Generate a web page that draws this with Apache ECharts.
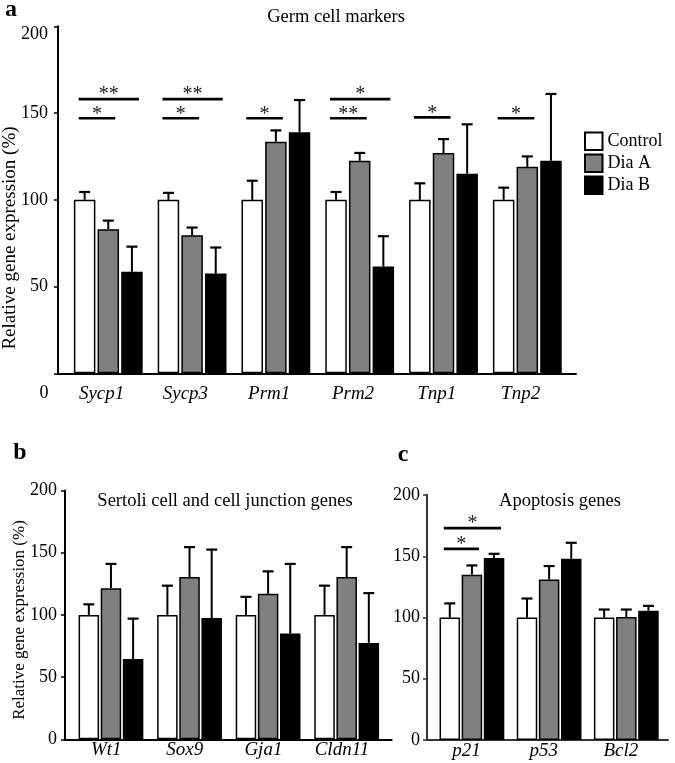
<!DOCTYPE html>
<html><head><meta charset="utf-8">
<script src="https://cdn.jsdelivr.net/npm/echarts@6/dist/echarts.min.js"></script>
<style>html,body{margin:0;padding:0;background:#fff}#c{width:675px;height:763px}</style>
</head><body><div id="c"></div>
<script>
// ---------- data ----------
const groups = ['Control', 'Dia A', 'Dia B'];
const yTicks = [0, 50, 100, 150, 200];

const catsA = ['Sycp1', 'Sycp3', 'Prm1', 'Prm2', 'Tnp1', 'Tnp2'];
const ctrlA = [100, 100, 100, 100, 100, 100];
const diaAA = [83, 79.5, 133.5, 122.5, 127, 119];
const diaBA = [58.5, 57.5, 139, 61.5, 115, 122.5];
const ctrlErrA = [104.5, 104, 111, 104.5, 109.5, 107];
const diaAErrA = [88, 84, 140, 127, 135, 125];
const diaBErrA = [73, 72.5, 157.5, 79, 143.5, 161];
// [category, from group, to group, bracket height, number of stars]
const sigA = [[0,0,1,147,1],[0,0,2,158,2],[1,0,1,147,1],[1,0,2,158,2],[2,0,1,147,1],
              [3,0,2,158,1],[3,0,1,147,2],[4,0,1,147.5,1],[5,0,1,147,1]];

const catsB = ['Wt1', 'Sox9', 'Gja1', 'Cldn11'];
const ctrlB = [100, 100, 100, 100];
const diaAB = [121.5, 130.5, 117, 130.5];
const diaBB = [64.5, 97.5, 85, 77.5];
const ctrlErrB = [108.5, 123.5, 114.5, 123.5];
const diaAErrB = [141, 154.5, 135, 154.5];
const diaBErrB = [97, 152.5, 141, 117.5];
const sigB = [];

const catsC = ['p21', 'p53', 'Bcl2'];
const ctrlC = [100, 100, 100];
const diaAC = [135, 131, 100.5];
const diaBC = [148.5, 148, 105.5];
const ctrlErrC = [111.5, 115.5, 106.5];
const diaAErrC = [142.5, 142, 106.5];
const diaBErrC = [152, 161, 109.5];
const sigC = [[0,0,2,173,1],[0,0,1,156,1]];

// ---------- layout / style ----------
const SERIF = '"Liberation Serif","Times New Roman",serif';
const fills = ['#ffffff', '#808080', '#000000'];
const panels = [
  {cats: catsA, vals: [ctrlA, diaAA, diaBA], errs: [ctrlErrA, diaAErrA, diaBErrA], sig: sigA,
   grid: {left: 58, top: 26.3, width: 518, height: 347}, xmin: -0.6, xmax: 5.581,
   bw: 21.5, gap: 0.1, ylm: 10, xlm: 11, hideZero: true, labShift: -0.08, topPad: true, axisColor: '#000'},
  {cats: catsB, vals: [ctrlB, diaAB, diaBB], errs: [ctrlErrB, diaAErrB, diaBErrB], sig: sigB,
   grid: {left: 65, top: 490.5, width: 326.7, height: 248.8}, xmin: -0.585, xmax: 3.573,
   bw: 20.5, gap: 0.08, ylm: 8, xlm: 1, hideZero: false, labShift: -0.06, topPad: false, axisColor: '#000'},
  {cats: catsC, vals: [ctrlC, diaAC, diaBC], errs: [ctrlErrC, diaAErrC, diaBErrC], sig: sigC,
   grid: {left: 427, top: 495, width: 241, height: 245}, xmin: -0.582, xmax: 2.54,
   bw: 20.5, gap: 0.08, ylm: 7, xlm: 1, hideZero: false, labShift: -0.07, topPad: false, axisColor: '#333'}
];

function errRender(offset) {
  return function (params, api) {
    const x = api.value(0), top = api.value(1), hi = api.value(2);
    const p0 = api.coord([x, top]), p1 = api.coord([x, hi]);
    const cx = p0[0] + offset;
    const cap = 5.5;
    return {type: 'group', children: [
      {type: 'line', shape: {x1: cx, y1: p0[1], x2: cx, y2: p1[1]}, style: {stroke: '#000', lineWidth: 2}},
      {type: 'line', shape: {x1: cx - cap, y1: p1[1], x2: cx + cap, y2: p1[1]}, style: {stroke: '#000', lineWidth: 2.2}}
    ]};
  };
}
function sigRender(step) {
  return function (params, api) {
    const x = api.value(0), a = api.value(1), b = api.value(2), y = api.value(3), n = api.value(4);
    const p = api.coord([x, y]);
    const x1 = p[0] + (a - 1) * step - 6, x2 = p[0] + (b - 1) * step + 7;
    return {type: 'group', children: [
      {type: 'line', shape: {x1: x1, y1: p[1], x2: x2, y2: p[1]}, style: {stroke: '#000', lineWidth: 2.6}},
      {type: 'text', x: (x1 + x2) / 2, y: p[1] - 4,
       style: {text: '*'.repeat(n), font: '20px ' + SERIF, fill: '#222', align: 'center', verticalAlign: 'middle'}}
    ]};
  };
}

const grid = [], xAxis = [], yAxis = [], series = [];
panels.forEach((P, k) => {
  const step = P.bw * (1 + P.gap);
  grid.push(Object.assign({containLabel: false}, P.grid));
  xAxis.push({
    type: 'value', gridIndex: k, min: P.xmin, max: P.xmax,
    axisLine: {show: true, onZero: false, lineStyle: {color: P.axisColor, width: 2}},
    axisTick: {show: false}, splitLine: {show: false},
    axisLabel: {customValues: P.cats.map((c, i) => i + P.labShift), formatter: v => P.cats[Math.round(v)],
      fontStyle: 'italic', fontFamily: SERIF, fontSize: 19, color: '#000', margin: P.xlm}
  });
  yAxis.push({
    type: 'value', gridIndex: k, min: yTicks[0], max: yTicks[yTicks.length - 1], interval: yTicks[1] - yTicks[0],
    axisLine: {show: true, onZero: false, lineStyle: {color: P.axisColor, width: 2}},
    axisTick: {show: true, length: 4, lineStyle: {color: P.axisColor, width: 1.5}},
    splitLine: {show: false},
    axisLabel: {fontFamily: SERIF, fontSize: 18, color: '#000', margin: P.ylm,
      formatter: v => (P.hideZero && v === 0) ? '' : ((P.topPad && v === 200) ? '{d|200}' : String(v)),
      rich: {d: {fontFamily: SERIF, fontSize: 18, color: '#000', padding: [16, 0, 0, 0]}}}
  });
  for (let s = 0; s < 3; s++) {
    series.push({
      type: 'bar', name: groups[s], xAxisIndex: k, yAxisIndex: k,
      barWidth: P.bw, barGap: (P.gap * 100) + '%',
      data: P.vals[s].map((v, i) => [i, v]),
      itemStyle: {color: fills[s], borderColor: '#000', borderWidth: 1.5},
      z: 2
    });
  }
  for (let s = 0; s < 3; s++) {
    series.push({type: 'custom', name: 'err' + k + '_' + s, xAxisIndex: k, yAxisIndex: k,
      data: P.vals[s].map((v, i) => [i, v, P.errs[s][i]]),
      encode: {x: 0, y: 2}, renderItem: errRender((s - 1) * step), z: 3});
  }
  if (P.sig.length) {
    series.push({type: 'custom', name: 'sig' + k, xAxisIndex: k, yAxisIndex: k, data: P.sig,
      encode: {x: 0, y: 3}, renderItem: sigRender(step), z: 3});
  }
});

const txt = (t, x, y, size, extra) => Object.assign({type: 'text', x: x, y: y,
  style: Object.assign({text: t, font: size + 'px ' + SERIF, fill: '#000', align: 'center', verticalAlign: 'middle'}, extra || {})});

const graphic = [
  txt('a', 11, 10, 24, {font: 'bold 24px ' + SERIF}),
  txt('b', 20, 453, 24, {font: 'bold 24px ' + SERIF}),
  txt('c', 403, 455, 24, {font: 'bold 24px ' + SERIF}),
  txt('Germ cell markers', 336, 17, 18.5),
  txt('Sertoli cell and cell junction genes', 225, 501, 18.5),
  txt('Apoptosis genes', 560, 501, 18.5),
  txt('0', 44, 393, 18),
  Object.assign(txt('Relative gene expression (%)', 10, 238, 19), {rotation: Math.PI / 2}),
  Object.assign(txt('Relative gene expression (%)', 20, 620, 17), {rotation: Math.PI / 2})
];

const chart = echarts.init(document.getElementById('c'), null, {renderer: 'canvas'});
chart.setOption({
  animation: false,
  backgroundColor: '#fff',
  grid: grid, xAxis: xAxis, yAxis: yAxis, series: series,
  legend: {data: groups, orient: 'vertical', left: 584, top: 131.5, padding: 0, itemWidth: 17.5, itemHeight: 17.5,
    itemGap: 2.5, icon: 'rect', textStyle: {fontFamily: SERIF, fontSize: 18, color: '#000'},
    selectedMode: false},
  graphic: graphic
});
</script></body></html>
